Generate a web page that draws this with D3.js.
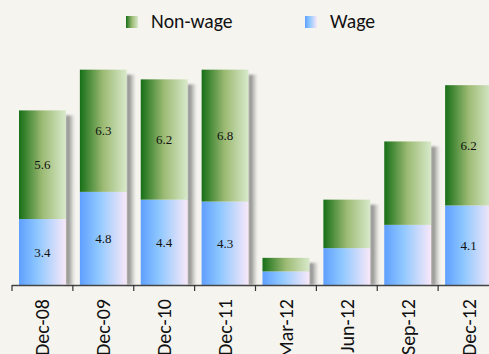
<!DOCTYPE html>
<html>
<head>
<meta charset="utf-8">
<script src="https://cdn.jsdelivr.net/npm/d3@7"></script>
<style>
  html, body { margin: 0; padding: 0; background: #f5f4ef; }
  svg { display: block; }
</style>
</head>
<body>
<div id="chart"></div>
<script>
// Wage vs non-wage components, by period
const categories = ["Dec-08", "Dec-09", "Dec-10", "Dec-11", "Mar-12", "Jun-12", "Sep-12", "Dec-12"];
const wage       = [3.4, 4.8, 4.4, 4.3, 0.7, 1.9, 3.1, 4.1];
const nonWage    = [5.6, 6.3, 6.2, 6.8, 0.7, 2.5, 4.3, 6.2];
const labelled   = [true, true, true, true, false, false, false, true];
const seriesNames = ["Non-wage", "Wage"];

const W = 489, H = 354;
const svg = d3.select("#chart").append("svg")
  .attr("width", W).attr("height", H);

svg.append("rect").attr("width", W).attr("height", H).attr("fill", "#f5f4ef");

const defs = svg.append("defs");
function hGrad(id, stops) {
  const g = defs.append("linearGradient").attr("id", id)
    .attr("x1", "0%").attr("x2", "100%").attr("y1", "0%").attr("y2", "0%");
  stops.forEach(([o, c]) => g.append("stop").attr("offset", o).attr("stop-color", c));
}
hGrad("gNon", [["0%", "#176f17"], ["50%", "#9dbb74"], ["100%", "#d8e9cb"]]);
hGrad("gWage", [["0%", "#5f9fff"], ["40%", "#8fc8ff"], ["100%", "#f9e8f8"]]);
hGrad("gShadow", [["0%", "#c4c4c2"], ["30%", "#8e8e8c"], ["65%", "#c6c6c3"], ["100%", "#f5f4ef"]]);
defs.append("filter").attr("id", "soft")
  .attr("x", "-50%").attr("y", "-10%").attr("width", "200%").attr("height", "120%")
  .append("feGaussianBlur").attr("stdDeviation", 1.2);

const x = d3.scaleBand().domain(categories)
  .range([12, 499]).paddingInner(0.23).paddingOuter(0.115);
const y = d3.scaleLinear().domain([0, 12]).range([285, 285 - 12 * 19.4]);

const rows = categories.map((c, i) => ({ c, wage: wage[i], nonWage: nonWage[i], lab: labelled[i] }));
const stack = d3.stack().keys(["wage", "nonWage"])(rows);

// shadows to the right of each bar
svg.append("g").selectAll("rect").data(rows).join("rect")
  .attr("x", d => x(d.c) + x.bandwidth() - 1)
  .attr("width", 10)
  .attr("y", d => y(d.wage + d.nonWage) + 5)
  .attr("height", d => y(0) - y(d.wage + d.nonWage) - 5)
  .attr("fill", "url(#gShadow)")
  .attr("filter", "url(#soft)");

const fills = { wage: "url(#gWage)", nonWage: "url(#gNon)" };
const layers = svg.append("g").selectAll("g").data(stack).join("g")
  .attr("fill", s => fills[s.key]);
layers.selectAll("rect").data(s => s).join("rect")
  .attr("x", d => x(d.data.c))
  .attr("width", x.bandwidth())
  .attr("y", d => y(d[1]))
  .attr("height", d => y(d[0]) - y(d[1]));

// value labels
layers.selectAll("text").data(s => s.filter(d => d.data.lab).map(d => ({ d, key: s.key }))).join("text")
  .attr("x", o => x(o.d.data.c) + x.bandwidth() / 2)
  .attr("y", o => (y(o.d[0]) + y(o.d[1])) / 2)
  .attr("dy", "0.35em")
  .attr("text-anchor", "middle")
  .attr("fill", "#111")
  .attr("font-family", "'Liberation Serif', 'Times New Roman', serif")
  .attr("font-size", 13)
  .text(o => o.d.data[o.key].toFixed(1));

// x axis
const axis = svg.append("g").attr("transform", `translate(0,${y(0)})`)
  .call(d3.axisBottom(x).tickSize(0).tickPadding(0));
axis.select(".domain").attr("stroke", "#444").attr("stroke-width", 1.5)
  .attr("d", "M12,0.5H499");
axis.selectAll(".tick line").remove();
// boundary ticks between categories
svg.append("g").selectAll("line").data(d3.range(categories.length))
  .join("line")
  .attr("x1", i => x(categories[i]) - x.step() * x.paddingInner() / 2)
  .attr("x2", i => x(categories[i]) - x.step() * x.paddingInner() / 2)
  .attr("y1", y(0)).attr("y2", y(0) + 6)
  .attr("stroke", "#333").attr("stroke-width", 1.2);
axis.selectAll(".tick text")
  .attr("transform", "rotate(-90)")
  .attr("text-anchor", "end")
  .attr("x", -14).attr("y", 0).attr("dy", "0.35em")
  .attr("fill", "#111")
  .attr("font-family", "'Carlito', 'Open Sans', 'Noto Sans', sans-serif")
  .attr("font-size", 20);

// legend
const legend = svg.append("g");
const legendX = [126, 305];
const legendFill = ["url(#gNon)", "url(#gWage)"];
seriesNames.forEach((name, i) => {
  legend.append("rect").attr("x", legendX[i]).attr("y", 16).attr("width", 12).attr("height", 12)
    .attr("fill", legendFill[i]);
  legend.append("text").attr("x", legendX[i] + 25).attr("y", 28)
    .attr("fill", "#111")
    .attr("font-family", "'Carlito', 'Open Sans', 'Noto Sans', sans-serif")
    .attr("font-size", 19.7)
    .text(name);
});
</script>
</body>
</html>
